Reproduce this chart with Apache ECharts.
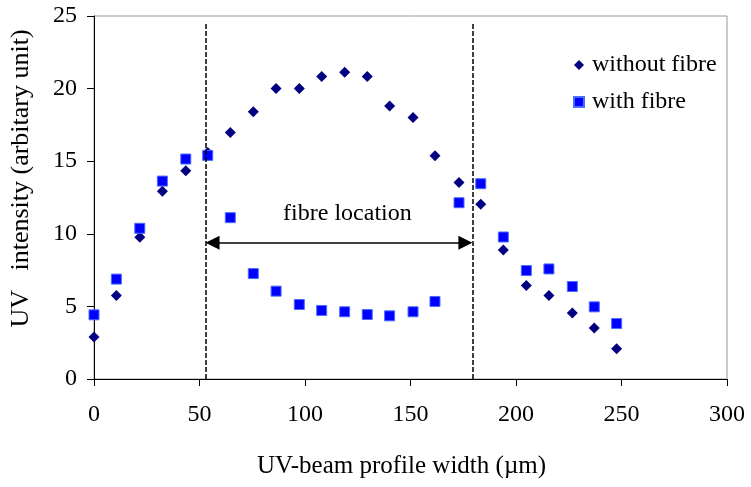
<!DOCTYPE html>
<html>
<head>
<meta charset="utf-8">
<script src="https://cdn.jsdelivr.net/npm/echarts@6/dist/echarts.min.js"></script>
<style>
html,body{margin:0;padding:0;background:#fff;}
#chart{width:751px;height:487px;}
</style>
</head>
<body>
<div id="chart"></div>
<script>
// UV-beam profile width (µm)
const xValues = [0, 10.6, 21.7, 32.4, 43.5, 53.9, 64.6, 75.5, 86.3, 97.3, 107.9, 118.8, 129.5, 140.1, 151.2, 161.6, 173, 183.3, 194, 204.9, 215.6, 226.7, 237.1, 247.7];
const withoutFibre = [2.89, 5.75, 9.76, 12.93, 14.34, 15.6, 16.98, 18.4, 20.0, 20.0, 20.83, 21.13, 20.83, 18.81, 18.01, 15.37, 13.54, 12.03, 8.89, 6.44, 5.75, 4.54, 3.51, 2.08];
const withFibre = [4.42, 6.88, 10.38, 13.63, 15.15, 15.4, 11.11, 7.26, 6.05, 5.13, 4.72, 4.63, 4.44, 4.35, 4.63, 5.34, 12.14, 13.45, 9.78, 7.47, 7.58, 6.37, 4.97, 3.82];
const seriesNames = ['without fibre', 'with fibre'];
const fibreEdges = [52.9, 179.3];
const dashTop = 24.55;
const arrowY = 9.39;
const annotationText = 'fibre location';
const annotationPos = [120.1, 11.4];

const FONT = 'Liberation Serif, Times New Roman, serif';
const chart = echarts.init(document.getElementById('chart'), null, {renderer: 'canvas'});

const pairs = (ys) => xValues.map((x, i) => [x, ys[i]]);

chart.setOption({
  animation: false,
  backgroundColor: '#ffffff',
  textStyle: {fontFamily: FONT},
  grid: {left: 93, right: 24, top: 16, bottom: 108, show: true, borderColor: '#999999', borderWidth: 1},
  legend: {
    orient: 'vertical',
    left: 568,
    top: 48,
    itemWidth: 10,
    itemHeight: 10,
    itemGap: 13,
    data: [
      {name: seriesNames[0], icon: 'diamond'},
      {name: seriesNames[1], icon: 'rect'}
    ],
    textStyle: {fontFamily: FONT, fontSize: 24, color: '#000', lineHeight: 24, padding: [0, 0, 0, 3]}
  },
  xAxis: {
    type: 'value',
    min: 0, max: 300, interval: 50,
    name: 'UV-beam profile width (µm)',
    nameLocation: 'middle',
    nameGap: 75,
    nameTextStyle: {fontFamily: FONT, fontSize: 25, color: '#000', padding: [0, 18, 0, 0]},
    axisLine: {show: true, lineStyle: {color: '#000', width: 1}},
    axisTick: {show: true, inside: false, length: 7, lineStyle: {color: '#000'}},
    axisLabel: {fontFamily: FONT, fontSize: 24, color: '#000', margin: 24},
    splitLine: {show: false}
  },
  yAxis: {
    type: 'value',
    min: 0, max: 25, interval: 5,
    name: 'UV   intensity (arbitary unit)',
    nameLocation: 'middle',
    nameGap: 60,
    nameRotate: 90,
    nameTextStyle: {fontFamily: FONT, fontSize: 26, color: '#000', padding: [0, 0, 0, 38]},
    axisLine: {show: true, lineStyle: {color: '#000', width: 1}},
    axisTick: {show: true, inside: false, length: 7, lineStyle: {color: '#000'}},
    axisLabel: {fontFamily: FONT, fontSize: 24, color: '#000', margin: 17},
    splitLine: {show: false}
  },
  series: [
    {
      name: seriesNames[0],
      type: 'scatter',
      symbol: 'diamond',
      symbolSize: 11,
      itemStyle: {color: '#000080', opacity: 1},
      data: pairs(withoutFibre),
      z: 3,
      markLine: {
        silent: true,
        animation: false,
        symbol: ['none', 'none'],
        label: {show: false},
        lineStyle: {color: '#000', width: 1.5, type: [5, 2]},
        data: fibreEdges.map(x => [{coord: [x, 0]}, {coord: [x, dashTop]}])
      }
    },
    {
      name: seriesNames[1],
      type: 'scatter',
      symbol: 'rect',
      symbolSize: 10,
      itemStyle: {color: '#0000FF', borderColor: '#4a6cff', borderWidth: 1, opacity: 1},
      data: pairs(withFibre),
      z: 4,
      markLine: {
        silent: true,
        animation: false,
        symbol: ['triangle', 'triangle'],
        symbolSize: [14, 14],
        label: {show: false},
        lineStyle: {color: '#000', width: 1.5, type: 'solid'},
        data: [[{coord: [fibreEdges[0] + 3.3, arrowY]}, {coord: [fibreEdges[1] - 3.3, arrowY]}]]
      },
      markPoint: {
        silent: true,
        animation: false,
        symbol: 'rect',
        symbolSize: 1,
        itemStyle: {color: 'rgba(0,0,0,0)'},
        label: {show: true, position: 'inside', formatter: annotationText, fontFamily: FONT, fontSize: 24, color: '#000'},
        data: [{coord: annotationPos}]
      }
    }
  ]
});
</script>
</body>
</html>
